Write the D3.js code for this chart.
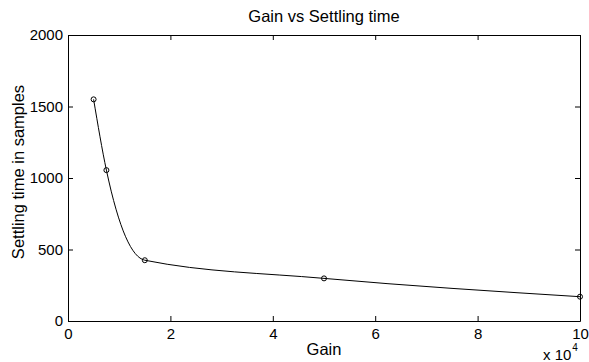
<!DOCTYPE html>
<html>
<head>
<meta charset="utf-8">
<script src="https://cdn.jsdelivr.net/npm/d3@7"></script>
<style>
  body { margin: 0; background: #fff; }
  svg { display: block; font-family: "Liberation Sans", Arial, sans-serif; }
</style>
</head>
<body>
<script>
// values
const gain = [5000, 7500, 15000, 50000, 100000];
const settling = [1550, 1055, 425, 298, 170];
const xTicks = [0, 20000, 40000, 60000, 80000, 100000];
const yTicks = [0, 500, 1000, 1500, 2000];

const width = 589, height = 362;
const margin = { top: 35, right: 9, bottom: 41, left: 68 };

const svg = d3.select("body").append("svg")
    .attr("width", width)
    .attr("height", height);

svg.append("rect")
    .attr("width", width)
    .attr("height", height)
    .attr("fill", "#fff");

const x = d3.scaleLinear()
    .domain([0, 100000])
    .range([margin.left, width - margin.right]);
const y = d3.scaleLinear()
    .domain([0, 2000])
    .range([height - margin.bottom, margin.top]);

// axes, ticks pointing inwards like matlab
const tickLen = 5;
const xAxis = d3.axisBottom(x).tickValues(xTicks).tickSizeInner(-tickLen).tickSizeOuter(0)
    .tickPadding(7).tickFormat(d => d / 10000);
const yAxis = d3.axisLeft(y).tickValues(yTicks).tickSizeInner(-tickLen).tickSizeOuter(0)
    .tickPadding(5).tickFormat(d3.format("d"));
const xTop = d3.axisTop(x).tickValues(xTicks).tickSizeInner(-tickLen).tickSizeOuter(0).tickFormat("");
const yRight = d3.axisRight(y).tickValues(yTicks).tickSizeInner(-tickLen).tickSizeOuter(0).tickFormat("");

const styleAxis = g => {
    g.selectAll("path, line").attr("stroke", "#000").attr("stroke-width", 1);
    g.selectAll("text").attr("fill", "#000").style("font-size", "15px")
        .style("font-family", "'Liberation Sans', Arial, sans-serif");
};

svg.append("g").attr("transform", `translate(0,${y(0)})`).call(xAxis).call(styleAxis);
svg.append("g").attr("transform", `translate(${x(0)},0)`).call(yAxis).call(styleAxis);
svg.append("g").attr("transform", `translate(0,${y(2000)})`).call(xTop).call(styleAxis);
svg.append("g").attr("transform", `translate(${x(100000)},0)`).call(yRight).call(styleAxis);

// curve through the points
const pts = gain.map((g, i) => [g, settling[i]]);
const line = d3.line()
    .x(d => x(d[0]))
    .y(d => y(d[1]))
    .curve(d3.curveMonotoneX);

svg.append("path")
    .datum(pts)
    .attr("d", line)
    .attr("fill", "none")
    .attr("stroke", "#000")
    .attr("stroke-width", 1);

svg.append("g")
    .selectAll("circle")
    .data(pts)
    .enter()
    .append("circle")
    .attr("cx", d => x(d[0]))
    .attr("cy", d => y(d[1]))
    .attr("r", 2.5)
    .attr("fill", "none")
    .attr("stroke", "#000")
    .attr("stroke-width", 1);

// labels
svg.append("text")
    .attr("x", (x(0) + x(100000)) / 2)
    .attr("y", 22)
    .attr("text-anchor", "middle")
    .style("font-size", "16.5px")
    .text("Gain vs Settling time");

svg.append("text")
    .attr("x", (x(0) + x(100000)) / 2)
    .attr("y", 355)
    .attr("text-anchor", "middle")
    .style("font-size", "16.5px")
    .text("Gain");

svg.append("text")
    .attr("transform", `translate(24,${(y(0) + y(2000)) / 2 - 6}) rotate(-90)`)
    .attr("text-anchor", "middle")
    .style("font-size", "16.5px")
    .text("Settling time in samples");

const expo = svg.append("text")
    .attr("x", 543)
    .attr("y", 360)
    .style("font-size", "15px");
expo.append("tspan").text("x 10");
expo.append("tspan")
    .attr("dy", -9)
    .attr("dx", 1)
    .style("font-size", "10px")
    .text("4");
</script>
</body>
</html>
